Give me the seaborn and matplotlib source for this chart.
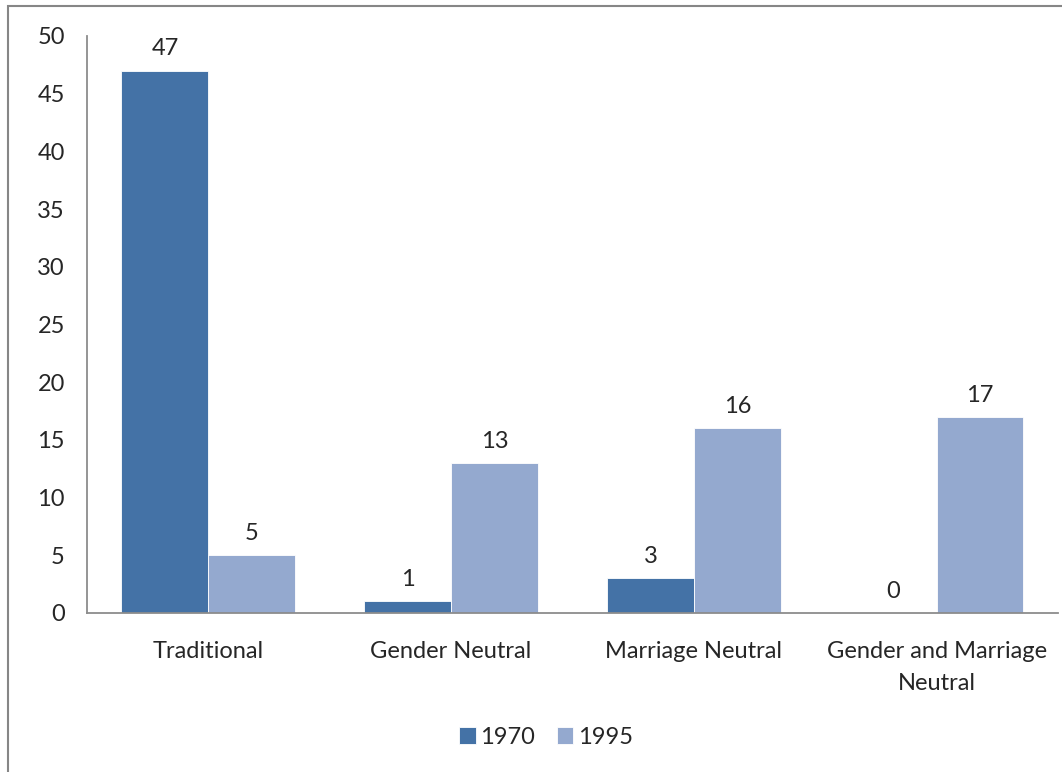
import pandas as pd
import numpy as np
import seaborn as sns
import matplotlib.pyplot as plt
from matplotlib.patches import Rectangle

# data
categories = ['Traditional', 'Gender Neutral', 'Marriage Neutral', 'Gender and Marriage\nNeutral']
years = ['1970', '1995']
values_1970 = [47, 1, 3, 0]
values_1995 = [5, 13, 16, 17]
yticks = [0, 5, 10, 15, 20, 25, 30, 35, 40, 45, 50]

df = pd.DataFrame({
    'category': categories * 2,
    'year': [years[0]] * 4 + [years[1]] * 4,
    'value': values_1970 + values_1995,
})

sns.set_style('white')
plt.rcParams['font.family'] = ['Lato', 'DejaVu Sans']
fs = 17

fig = plt.figure(figsize=(10.62, 7.72), dpi=100)
ax = fig.add_axes([0.0819, 0.206, 0.9143, 0.7474])

# outer chart frame
fig.patches.append(Rectangle((8 / 1062, -0.05), 1.1, 1 - 6 / 772 + 0.05,
                             transform=fig.transFigure, fill=False,
                             edgecolor='#868686', linewidth=1.5))

sns.barplot(data=df, x='category', y='value', hue='year',
            palette=['#4472A6', '#94A9CF'], width=0.716, ax=ax,
            edgecolor='white', linewidth=0.6, saturation=1)

for c in ax.containers:
    ax.bar_label(c, fmt='%d', padding=8, fontsize=fs)

ax.set_ylim(0, 50)
ax.set_yticks(yticks)
ax.set_xlim(-0.5, 3.5)
ax.set_xlabel('')
ax.set_ylabel('')
ax.tick_params(axis='y', length=0, pad=16, labelsize=fs)
ax.tick_params(axis='x', length=0, pad=20, labelsize=fs)
for lbl in ax.get_xticklabels():
    lbl.set_linespacing(1.65)
for s in ['top', 'right']:
    ax.spines[s].set_visible(False)
for s in ['left', 'bottom']:
    ax.spines[s].set_color('#8c8c8c')
    ax.spines[s].set_linewidth(1.3)

ax.legend(loc='center', bbox_to_anchor=(546 / 1062, 1 - 737 / 772),
          bbox_transform=fig.transFigure, ncol=2, frameon=False,
          fontsize=fs, handlelength=0.7, handleheight=0.7,
          handletextpad=0.2, columnspacing=0.9)

plt.savefig('out.png', dpi=100)
